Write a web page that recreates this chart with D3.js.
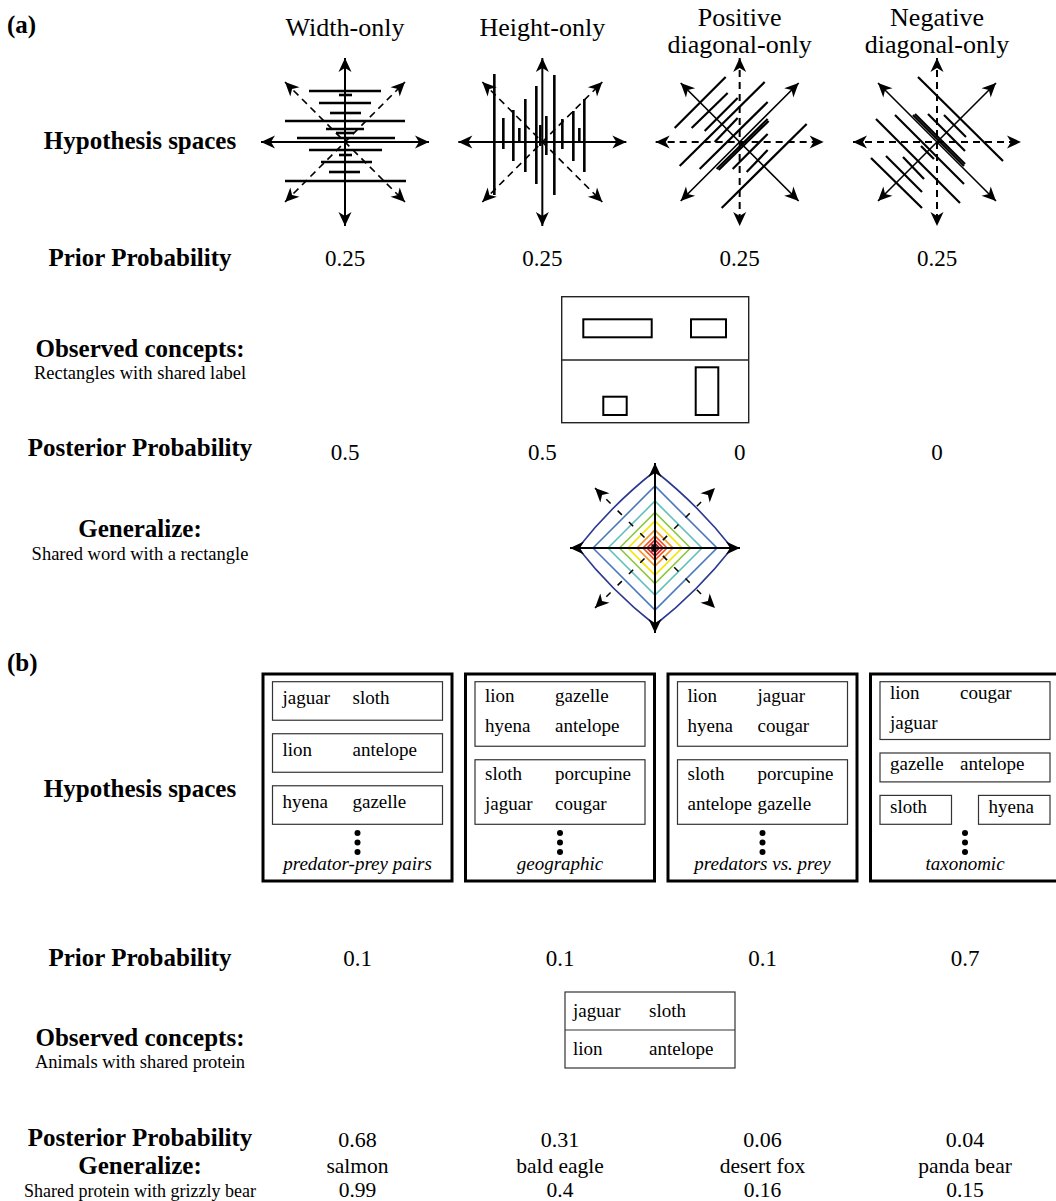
<!DOCTYPE html>
<html>
<head>
<meta charset="utf-8">
<script src="https://cdn.jsdelivr.net/npm/d3@7"></script>
<style>
  body { margin: 0; background: #fff; }
  svg { display: block; }
  text { font-family: "Liberation Serif", "Times New Roman", serif; fill: #000; }
</style>
</head>
<body>
<svg id="fig" width="1056" height="1201"></svg>
<script>
// ---------------- data: (a) rectangle concepts ----------------
const shapeHypotheses = ["width", "height", "pos", "neg"];
const shapeTitleLines = [["Width-only"], ["Height-only"], ["Positive", "diagonal-only"], ["Negative", "diagonal-only"]];
const shapePrior = [0.25, 0.25, 0.25, 0.25];
const shapePosterior = [0.5, 0.5, 0, 0];

// hypothesis glyphs, in glyph units (axis half-length = 84)
// width-only: horizontal bars [y, x0, x1]
const widthOnlyBars = [
  [-51, -36, 36], [-47, -6, 7], [-39, -26, 26], [-29, -15, 16], [-21, -60, 60],
  [-13, -19, 19], [-9, -9, 9], [-4, -48, 50], [8, -36, 37], [13, -6, 7],
  [20, -24, 27], [30, -16, 15], [39, -60, 61]
];
// height-only: vertical bars [x, y0, y1]
const heightOnlyBars = [
  [-48, -68, 53], [-39, -24, 7], [-29, -32, 19], [-23, -14, -1], [-17, -43, 30],
  [-6, -56, 42], [-2, -17, 4], [4, -26, 13], [12, -67, 53], [20, -23, 7],
  [31, -31, 19], [37, -14, -1], [42, -43, 30]
];
// positive-diagonal segments [x0, y0, x1, y1]
const posDiagSegs = [
  [-65, -14, -14, -65], [-48, -14, -12, -49], [-35, -11, -2, -44], [-60, 24, 25, -60],
  [-40, 27, 28, -40], [-25, 0, -2, -24], [-23, 27, 28, -23], [-21, 28, 29, -21],
  [-7, 27, 28, -8], [7, 30, 28, 8], [-18, 66, 67, -18]
];
// negative-diagonal segments [x0, y0, x1, y1]
const negDiagSegs = [
  [-19, -65, 66, 19], [-61, -23, 23, 61], [-42, -27, 27, 42], [-24, -27, 27, 24],
  [-22, -28, 28, 22], [-9, -28, 28, 9], [7, -27, 29, -5], [-66, 16, -15, 66],
  [-51, 14, -15, 50], [-34, 15, -13, 37], [-16, 4, -3, 17]
];

// observed rectangles (box units: 187 x 126, two labelled halves)
const observedRects = [
  { x: 21.6, y: 22.6, w: 68.4, h: 18 },
  { x: 129.3, y: 22.6, w: 35, h: 18 },
  { x: 41.6, y: 100, w: 23.4, h: 18.3 },
  { x: 134, y: 70.6, w: 22.6, h: 47.7 }
];

// generalization contours (radius in glyph units, outermost first)
const contourLevels = [77, 62, 47, 35.5, 27, 18, 12, 8, 4.5, 2];
const contourColors = ["#2b3990", "#4a78c0", "#62c1bd", "#8fc640", "#f4e600", "#f7931e", "#f4511e", "#e0191b", "#a0141a", "#333333"];

// ---------------- data: (b) animal concepts ----------------
const animalHypotheses = ["predator-prey pairs", "geographic", "predators vs. prey", "taxonomic"];
// each hypothesis: shelves -> clusters -> rows -> words
const animalShelves = [
  [[[["jaguar", "sloth"]]], [[["lion", "antelope"]]], [[["hyena", "gazelle"]]]],
  [[[["lion", "gazelle"], ["hyena", "antelope"]]], [[["sloth", "porcupine"], ["jaguar", "cougar"]]]],
  [[[["lion", "jaguar"], ["hyena", "cougar"]]], [[["sloth", "porcupine"], ["antelope", "gazelle"]]]],
  [[[["lion", "cougar"], ["jaguar"]]], [[["gazelle", "antelope"]]], [[["sloth"]], [["hyena"]]]]
];
const animalPrior = [0.1, 0.1, 0.1, 0.7];
const observedAnimals = [["jaguar", "sloth"], ["lion", "antelope"]];
const animalPosterior = [0.68, 0.31, 0.06, 0.04];
const generalizeAnimals = ["salmon", "bald eagle", "desert fox", "panda bear"];
const generalizeValues = [0.99, 0.4, 0.16, 0.15];

// ---------------- drawing ----------------
const svg = d3.select("#fig");
svg.append("rect").attr("width", 1056).attr("height", 1201).attr("fill", "#fff");

const defs = svg.append("defs");
defs.append("marker")
  .attr("id", "head")
  .attr("viewBox", "-15 -8 16 16")
  .attr("refX", 0).attr("refY", 0)
  .attr("markerWidth", 16).attr("markerHeight", 16)
  .attr("markerUnits", "userSpaceOnUse")
  .attr("orient", "auto-start-reverse")
  .append("path")
  .attr("d", "M0,0 L-14,-6.5 L-10,0 L-14,6.5 Z")
  .attr("fill", "#000");

const labelX = 140;

function label(txt, x, y, size, opts = {}) {
  return svg.append("text")
    .attr("x", x).attr("y", y)
    .attr("text-anchor", opts.anchor || "middle")
    .attr("font-size", size)
    .attr("font-weight", opts.bold ? "bold" : "normal")
    .attr("font-style", opts.italic ? "italic" : "normal")
    .text(txt);
}

function arrow(g, x1, y1, x2, y2, dashed, width) {
  g.append("path")
    .attr("d", `M${x1},${y1}L${x2},${y2}`)
    .attr("stroke", "#000")
    .attr("stroke-width", width || 2)
    .attr("fill", "none")
    .attr("stroke-dasharray", dashed ? dashed : null)
    .attr("marker-start", "url(#head)")
    .attr("marker-end", "url(#head)");
}

// ----- panel (a) -----
label("(a)", 7, 33, 25, { anchor: "start", bold: true });

const colA = d3.scalePoint().domain(shapeHypotheses).range([345, 937]);
const glyphY = 142;

shapeHypotheses.forEach((h, i) => {
  const lines = shapeTitleLines[i];
  const t = svg.append("text")
    .attr("x", colA(h)).attr("text-anchor", "middle").attr("font-size", 26);
  if (lines.length === 1) {
    t.attr("y", 36).text(lines[0]);
  } else {
    t.attr("y", 26).text(lines[0]);
    svg.append("text").attr("x", colA(h)).attr("y", 53)
      .attr("text-anchor", "middle").attr("font-size", 26).text(lines[1]);
  }
});

function drawGlyph(kind) {
  const cx = colA(kind);
  const sx = d3.scaleLinear().domain([-84, 84]).range([cx - 84, cx + 84]);
  const sy = d3.scaleLinear().domain([-84, 84]).range([glyphY - 84, glyphY + 84]);
  const g = svg.append("g");
  const diagonal = kind === "pos" || kind === "neg";

  if (kind === "width") {
    g.selectAll("line.bar").data(widthOnlyBars).join("line")
      .attr("x1", d => sx(d[1])).attr("x2", d => sx(d[2]))
      .attr("y1", d => sy(d[0])).attr("y2", d => sy(d[0]))
      .attr("stroke", "#000").attr("stroke-width", 2.6);
  } else if (kind === "height") {
    g.selectAll("line.bar").data(heightOnlyBars).join("line")
      .attr("x1", d => sx(d[0])).attr("x2", d => sx(d[0]))
      .attr("y1", d => sy(d[1])).attr("y2", d => sy(d[2]))
      .attr("stroke", "#000").attr("stroke-width", 2.6);
  } else {
    const segs = kind === "pos" ? posDiagSegs : negDiagSegs;
    g.selectAll("line.seg").data(segs).join("line")
      .attr("x1", d => sx(d[0])).attr("y1", d => sy(d[1]))
      .attr("x2", d => sx(d[2])).attr("y2", d => sy(d[3]))
      .attr("stroke", "#000").attr("stroke-width", 2.2);
  }

  const axisDash = diagonal ? "7,5" : null;
  const diagDash = diagonal ? null : "7,5";
  arrow(g, sx(0), sy(-84), sx(0), sy(84), axisDash, 2);
  arrow(g, sx(-84), sy(0), sx(84), sy(0), axisDash, 2);
  const d = diagonal ? 59 : 60;
  arrow(g, sx(-d), sy(-d), sx(d), sy(d), diagDash, 1.6);
  arrow(g, sx(-d), sy(d), sx(d), sy(-d), diagDash, 1.6);
}
shapeHypotheses.forEach(drawGlyph);

label("Hypothesis spaces", labelX, 149, 25, { bold: true });
label("Prior Probability", labelX, 266, 25, { bold: true });
shapeHypotheses.forEach((h, i) => label(String(shapePrior[i]), colA(h), 266, 23));

label("Observed concepts:", labelX, 357, 25, { bold: true });
label("Rectangles with shared label", labelX, 379, 18.5);

// observed box
{
  const bx = d3.scaleLinear().domain([0, 187]).range([561.7, 748.7]);
  const by = d3.scaleLinear().domain([0, 126]).range([296.7, 422.7]);
  const g = svg.append("g");
  g.append("rect").attr("x", bx(0)).attr("y", by(0))
    .attr("width", bx(187) - bx(0)).attr("height", by(126) - by(0))
    .attr("fill", "none").attr("stroke", "#222").attr("stroke-width", 1.4);
  g.append("line").attr("x1", bx(0)).attr("x2", bx(187))
    .attr("y1", by(63.3)).attr("y2", by(63.3))
    .attr("stroke", "#222").attr("stroke-width", 1.4);
  g.selectAll("rect.obs").data(observedRects).join("rect")
    .attr("x", d => bx(d.x)).attr("y", d => by(d.y))
    .attr("width", d => bx(d.x + d.w) - bx(d.x))
    .attr("height", d => by(d.y + d.h) - by(d.y))
    .attr("fill", "none").attr("stroke", "#000").attr("stroke-width", 2);
}

label("Posterior Probability", labelX, 456, 25, { bold: true });
shapeHypotheses.forEach((h, i) => label(String(shapePosterior[i]), colA(h), 460, 23));

label("Generalize:", labelX, 537, 25, { bold: true });
label("Shared word with a rectangle", labelX, 560, 18.5);

// generalization contours
{
  const cx = 655, cy = 548;
  const sx = d3.scaleLinear().domain([-85, 85]).range([cx - 85, cx + 85]);
  const sy = d3.scaleLinear().domain([-85, 85]).range([cy - 85, cy + 85]);
  const g = svg.append("g");
  contourLevels.forEach((r, i) => {
    const p = d3.path();
    if (i === 0) {
      // outermost level bulges slightly outward
      const b = r * 0.56;
      p.moveTo(sx(-r), sy(0));
      p.quadraticCurveTo(sx(-b), sy(-b), sx(0), sy(-r));
      p.quadraticCurveTo(sx(b), sy(-b), sx(r), sy(0));
      p.quadraticCurveTo(sx(b), sy(b), sx(0), sy(r));
      p.quadraticCurveTo(sx(-b), sy(b), sx(-r), sy(0));
    } else {
      p.moveTo(sx(-r), sy(0));
      p.lineTo(sx(0), sy(-r));
      p.lineTo(sx(r), sy(0));
      p.lineTo(sx(0), sy(r));
      p.closePath();
    }
    g.append("path").attr("d", p.toString())
      .attr("fill", "none").attr("stroke", contourColors[i]).attr("stroke-width", 1.6);
  });
  arrow(g, sx(0), sy(-85), sx(0), sy(85), null, 2);
  arrow(g, sx(-85), sy(0), sx(85), sy(0), null, 2);
  arrow(g, sx(-60), sy(-60), sx(60), sy(60), "6,10", 1.5);
  arrow(g, sx(-60), sy(60), sx(60), sy(-60), "6,10", 1.5);
}

// ----- panel (b) -----
label("(b)", 7, 671, 25, { anchor: "start", bold: true });

const colB = d3.scalePoint().domain(animalHypotheses).range([357.5, 965]);
const boxTop = 674, boxBottom = 881, boxHalf = 94.5;

animalHypotheses.forEach((h, i) => {
  const cx = colB(h);
  const g = svg.append("g");
  g.append("rect").attr("x", cx - boxHalf).attr("y", boxTop)
    .attr("width", 2 * boxHalf).attr("height", boxBottom - boxTop)
    .attr("fill", "none").attr("stroke", "#000").attr("stroke-width", 3);

  const shelves = animalShelves[i];
  const innerL = cx - boxHalf + 9.5, innerW = 2 * boxHalf - 19;
  const top = 681.7, bottom = 824.3, gap = 13.5, hGap = 27;
  const rowsIn = s => d3.max(s, c => c.length);
  const unit = (bottom - top - gap * (shelves.length - 1)) / d3.sum(shelves, rowsIn);
  let y = top;
  shelves.forEach(shelf => {
    const h = rowsIn(shelf) * unit;
    const cw = (innerW - hGap * (shelf.length - 1)) / shelf.length;
    shelf.forEach((cluster, j) => {
      const x = innerL + j * (cw + hGap);
      g.append("rect").attr("x", x).attr("y", y).attr("width", cw).attr("height", h)
        .attr("fill", "none").attr("stroke", "#333").attr("stroke-width", 1.2);
      const mid = y + h / 2;
      cluster.forEach((row, k) => {
        const base = mid + (k - (cluster.length - 1) / 2) * 30 + 3;
        row.forEach((word, m) => {
          g.append("text").attr("x", x + 10 + m * 70).attr("y", base)
            .attr("font-size", 19).text(word);
        });
      });
    });
    y += h + gap;
  });

  // vertical ellipsis: more hypotheses of the same kind
  g.selectAll("circle").data([0, 1, 2]).join("circle")
    .attr("cx", cx).attr("cy", k => 833 + k * 9.5).attr("r", 3).attr("fill", "#000");
  g.append("text").attr("x", cx).attr("y", 870).attr("text-anchor", "middle")
    .attr("font-size", 19).attr("font-style", "italic").text(h);
});

label("Hypothesis spaces", labelX, 797, 25, { bold: true });
label("Prior Probability", labelX, 966, 25, { bold: true });
animalHypotheses.forEach((h, i) => label(String(animalPrior[i]), colB(h), 966, 23));

label("Observed concepts:", labelX, 1046, 25, { bold: true });
label("Animals with shared protein", labelX, 1068, 18.5);

{
  const x0 = 565, y0 = 992, w = 170, rowH = 38;
  const g = svg.append("g");
  g.append("rect").attr("x", x0).attr("y", y0).attr("width", w).attr("height", rowH * observedAnimals.length)
    .attr("fill", "none").attr("stroke", "#333").attr("stroke-width", 1.2);
  observedAnimals.forEach((row, k) => {
    if (k > 0) {
      g.append("line").attr("x1", x0).attr("x2", x0 + w)
        .attr("y1", y0 + k * rowH).attr("y2", y0 + k * rowH)
        .attr("stroke", "#333").attr("stroke-width", 1.2);
    }
    row.forEach((word, m) => {
      g.append("text").attr("x", x0 + 8 + m * 76).attr("y", y0 + k * rowH + rowH / 2 + 6)
        .attr("font-size", 19).text(word);
    });
  });
}

label("Posterior Probability", labelX, 1146, 25, { bold: true });
animalHypotheses.forEach((h, i) => label(String(animalPosterior[i]), colB(h), 1147, 22));

label("Generalize:", labelX, 1174, 25, { bold: true });
label("Shared protein with grizzly bear", labelX, 1197, 18);
animalHypotheses.forEach((h, i) => {
  label(generalizeAnimals[i], colB(h), 1173, 21.5);
  label(String(generalizeValues[i]), colB(h), 1197, 21.5);
});
</script>
</body>
</html>
